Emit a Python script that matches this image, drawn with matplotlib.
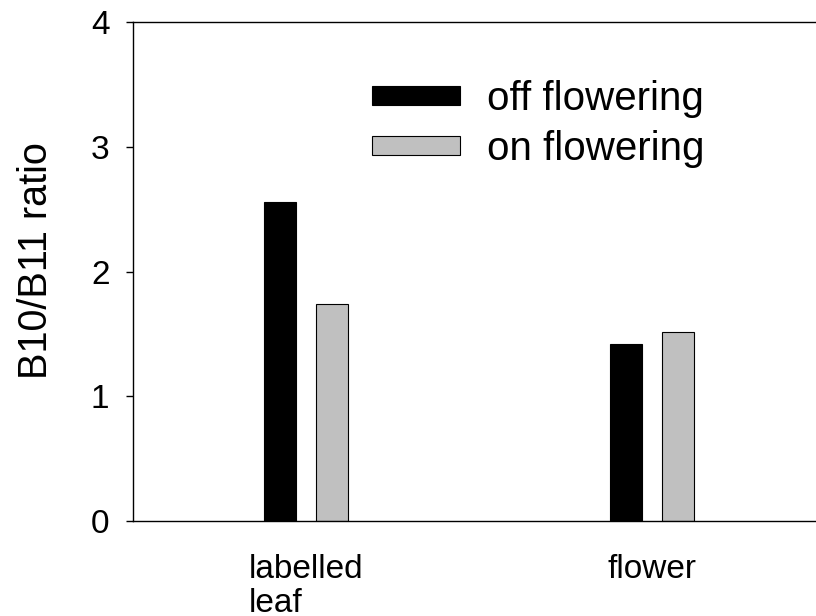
import numpy as np
from matplotlib import pyplot as plt
from matplotlib.patches import Patch

plt.rcParams['font.family'] = ['Liberation Sans', 'DejaVu Sans']

groups = ['labelled\nleaf', 'flower']
off_flowering = [2.56, 1.42]
on_flowering = [1.74, 1.52]
series_names = ['off flowering', 'on flowering']

x = np.arange(1, len(groups) + 1)
width = 0.093
shift = 0.075

fig = plt.figure(figsize=(8.16, 6.16), dpi=100)
# axes run past the right edge of the figure, as in the original
ax = fig.add_axes([133 / 816, 0.154, 692 / 816, 0.81])

ax.bar(x - shift, off_flowering, width, color='black', edgecolor='black', linewidth=0.8)
ax.bar(x + shift, on_flowering, width, color='#c0c0c0', edgecolor='black', linewidth=0.8)

ax.set_xlim(0.5, 2.5)
ax.set_ylim(0, 4)
ax.set_yticks([0, 1, 2, 3, 4])
ax.set_xticks(x)
ax.set_xticklabels(groups, multialignment='left', linespacing=1.1)

ax.spines['right'].set_visible(False)
for s in ['left', 'top', 'bottom']:
    ax.spines[s].set_linewidth(1.0)

ax.tick_params(axis='y', direction='out', length=5, width=1.0, labelsize=24, pad=12)
ax.tick_params(axis='x', length=0, labelsize=24, pad=24)

ax.set_ylabel('B10/B11 ratio', fontsize=28.5)
ax.yaxis.set_label_coords(-0.112, 0.523)

handles = [Patch(facecolor='black', edgecolor='black', linewidth=0.8),
           Patch(facecolor='#c0c0c0', edgecolor='black', linewidth=0.8)]
ax.legend(handles, series_names, loc='upper left', bbox_to_anchor=(0.345, 0.884),
          frameon=False, fontsize=29, handlelength=2.18, handleheight=0.37,
          handletextpad=0.67, labelspacing=0.29, borderpad=0, borderaxespad=0)

fig.savefig('out.png', dpi=100)
